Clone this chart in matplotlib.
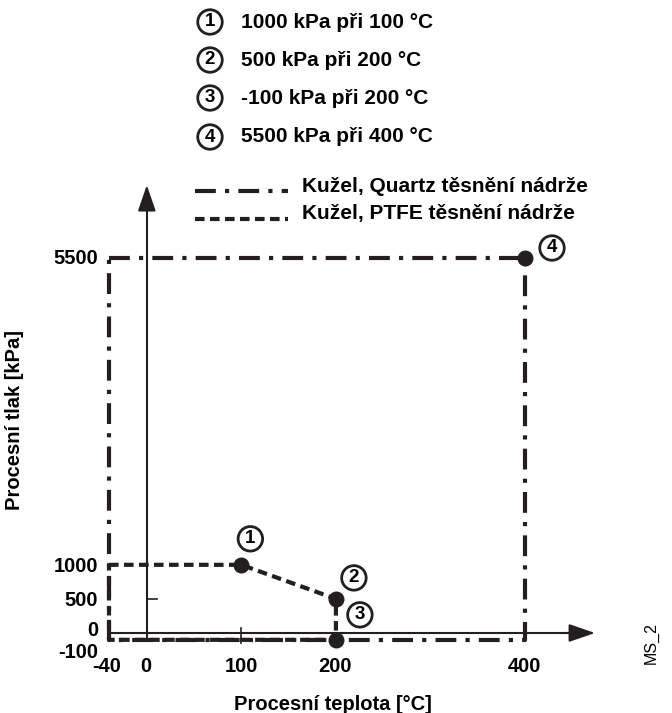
import matplotlib.pyplot as plt
import numpy as np

plt.rcParams['font.family'] = ['Liberation Sans', 'DejaVu Sans']

# data
quartz_t = [-40, 400, 400, -40, -40]
quartz_p = [5500, 5500, -100, -100, 5500]
ptfe_t = [-40, 100, 200, 200, -40, -40]
ptfe_p = [1000, 1000, 500, -100, -100, 1000]
point_t = [100, 200, 200, 400]
point_p = [1000, 500, -100, 5500]
point_ids = ['1', '2', '3', '4']
point_texts = ['1000 kPa při 100 °C', '500 kPa při 200 °C',
               '-100 kPa při 200 °C', '5500 kPa při 400 °C']
xtick_vals = [-40, 0, 100, 200, 400]
ytick_vals = [5500, 1000, 500, 0, -100]

W, H = 672, 713
col = '#231f20'

fig = plt.figure(figsize=(W / 100, H / 100), dpi=100)
ax = fig.add_axes([0, 0, 1, 1])
ax.set_axis_off()

# pixel mapping: x=-40 -> 109px, 400 -> 525px ; y=0 -> 633px, 5500 -> 258px
sx = (525 - 109) / 440.0
sy = (633 - 258) / 5500.0
ax.set_xlim(-40 - 109 / sx, -40 + (W - 109) / sx)
ax.set_ylim(-(H - 633) / sy, 633 / sy)


def px(x, y):
    return x / W, 1 - y / H


# axes with arrows
ax.plot([0, 0], [-100, 6250], color=col, lw=1.5, zorder=2)
ax.plot([-40, 445], [0, 0], color=col, lw=1.5, zorder=2)
ax.annotate('', xy=(0, 6610), xytext=(0, 6200),
            arrowprops=dict(arrowstyle='-|>,head_length=1.6,head_width=0.55',
                            color=col, lw=1.5))
ax.annotate('', xy=(477, 0), xytext=(440, 0),
            arrowprops=dict(arrowstyle='-|>,head_length=1.6,head_width=0.55',
                            color=col, lw=1.5))
# small ticks
ax.plot([100, 100], [-150, 80], color=col, lw=1.2)
ax.plot([0, 11], [500, 500], color=col, lw=1.2)

# limit lines
dashdot = (0, (5, 2.2, 1, 2.2))
dashed = (0, (2.3, 1.3))
ax.plot(quartz_t, quartz_p, color=col, lw=3, linestyle=dashdot, zorder=3)
ax.plot(ptfe_t, ptfe_p, color=col, lw=3, linestyle=dashed, zorder=3)

ax.scatter(point_t, point_p, s=110, color=col, zorder=5)

offsets = [(9, 26), (18, 21), (24, 25), (27, 10)]
for t, p, lab, off in zip(point_t, point_p, point_ids, offsets):
    ax.annotate(lab, (t, p), xytext=off, textcoords='offset pixels',
                ha='center', va='center', fontsize=13.5, fontweight='bold',
                bbox=dict(boxstyle='circle,pad=0.2', fc='white', ec=col, lw=2),
                zorder=6)

# legend of points
rows = [22, 60, 98, 137]
for y, lab, txt in zip(rows, point_ids, point_texts):
    fig.text(*px(210, y), lab, ha='center', va='center', fontsize=13.5,
             fontweight='bold',
             bbox=dict(boxstyle='circle,pad=0.2', fc='white', ec=col, lw=2))
    fig.text(*px(241, y), txt, ha='left', va='center', fontsize=15,
             fontweight='bold')

# legend of lines
lx0, lx1 = 195, 288
x0 = ax.transData.inverted().transform((lx0, H - 191))
x1 = ax.transData.inverted().transform((lx1, H - 191))
ax.plot([x0[0], x1[0]], [x0[1], x0[1]], color=col, lw=3, linestyle=dashdot)
y2 = ax.transData.inverted().transform((lx0, H - 219))[1]
ax.plot([x0[0], x1[0]], [y2, y2], color=col, lw=3, linestyle=dashed)
fig.text(*px(302, 187), 'Kužel, Quartz těsnění nádrže', ha='left',
         va='center', fontsize=15, fontweight='bold')
fig.text(*px(302, 213), 'Kužel, PTFE těsnění nádrže', ha='left',
         va='center', fontsize=15, fontweight='bold')

# tick labels
ypos = {5500: 258, 1000: 567, 500: 601, 0: 631, -100: 652}
for v in ytick_vals:
    fig.text(*px(98, ypos[v]), str(v), ha='right', va='center',
             fontsize=14.5, fontweight='bold')
xpos = {-40: 107, 0: 146, 100: 241, 200: 335, 400: 524}
for v in xtick_vals:
    fig.text(*px(xpos[v], 667), str(v), ha='center', va='center',
             fontsize=14.5, fontweight='bold')

fig.text(*px(333, 704), 'Procesní teplota [°C]', ha='center', va='center',
         fontsize=14.5, fontweight='bold')
fig.text(*px(15, 420), 'Procesní tlak [kPa]', ha='center', va='center',
         rotation=90, fontsize=14.5, fontweight='bold')
fig.text(*px(651, 643), 'MS_2', ha='center', va='center', rotation=90,
         fontsize=11.5)

fig.savefig('out.png', dpi=100)
